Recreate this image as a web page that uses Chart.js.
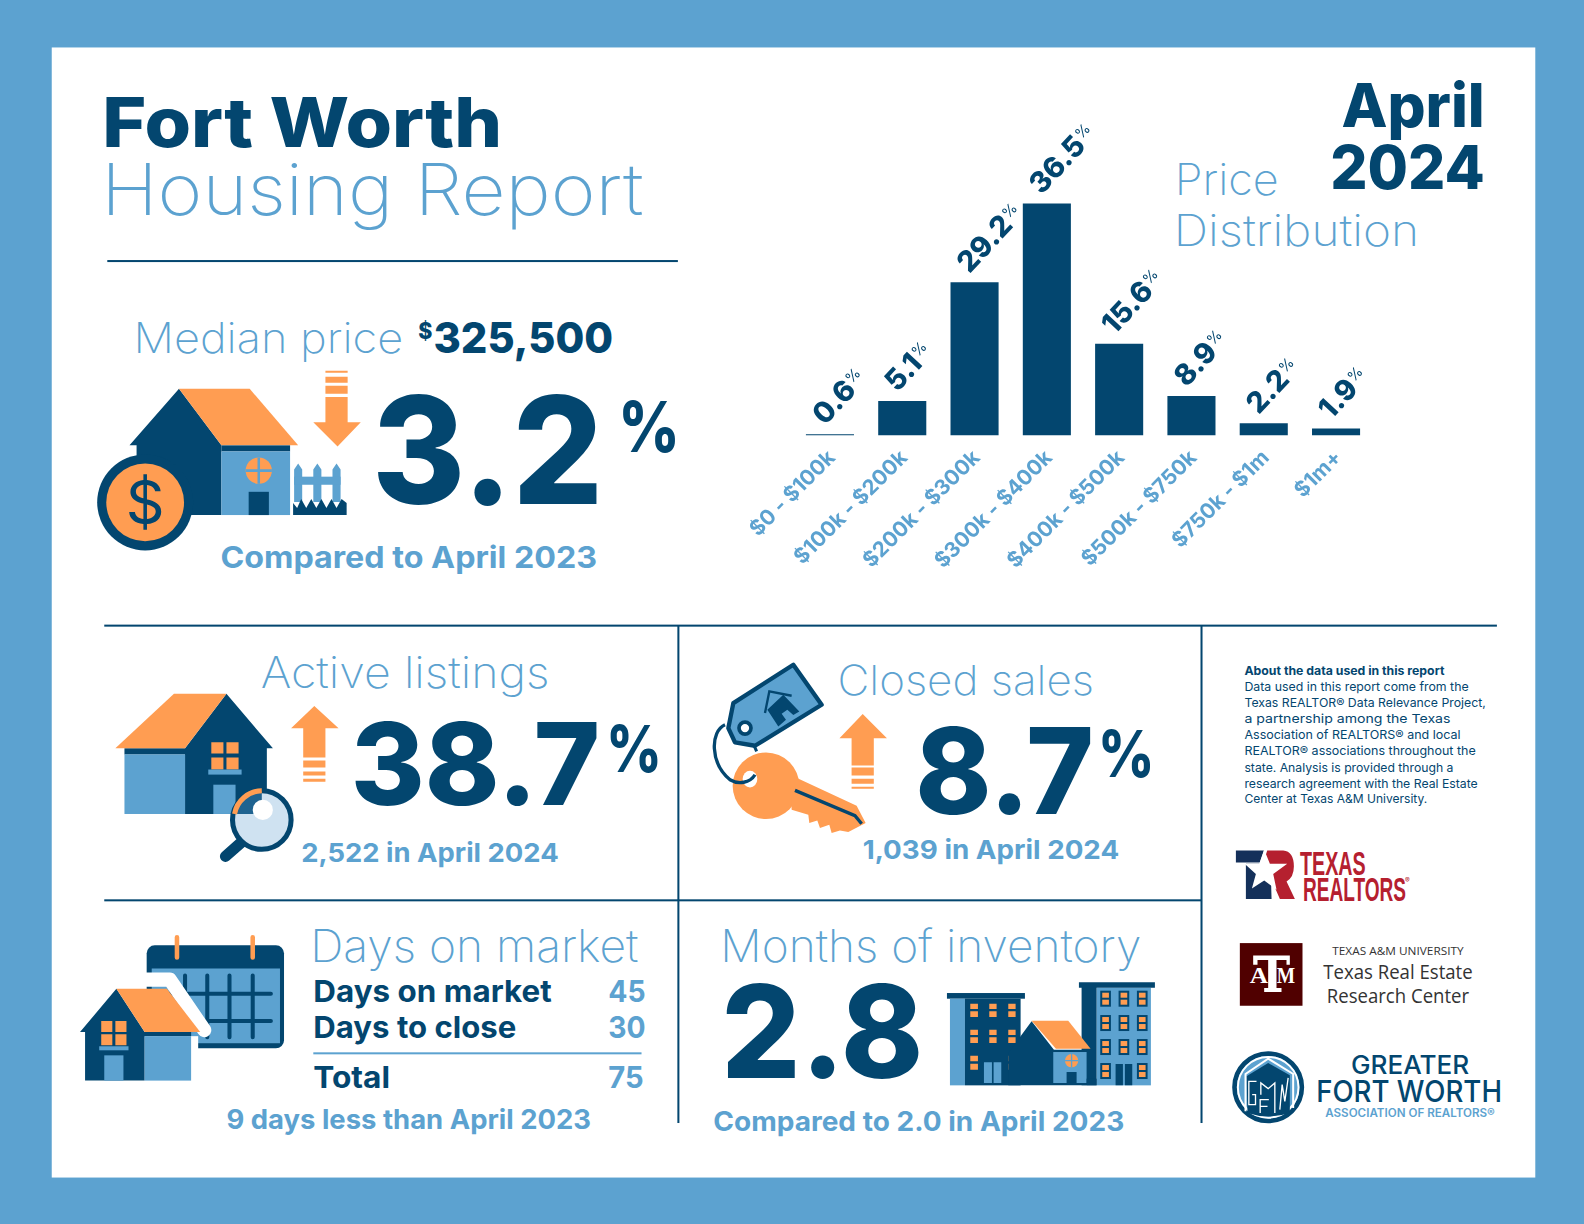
<!DOCTYPE html>
<html>
<head>
<meta charset="utf-8">
<title>Fort Worth Housing Report</title>
<script src="https://cdn.jsdelivr.net/npm/chart.js@4"></script>
<style>
  html, body { margin: 0; width: 1584px; height: 1224px; overflow: hidden; background: #5ca2d0; }
  #page { position: absolute; left: 0; top: 0; }
  #priceChart { position: absolute; left: 700px; top: 60px; }
  text { font-family: Inter, "Open Sans", sans-serif; }
  .b { font-weight: 700; fill: #03466f; }
  .x { font-weight: 800; fill: #03466f; }
  .s { font-weight: 700; fill: #5ca2d0; }
  .l { font-weight: 200; fill: #5ca2d0; }
  .a { font-weight: 400; fill: #03466f; font-size: 12px; }
  .navy { fill: #03466f; } .blue { fill: #5ca2d0; } .org { fill: #ff9d52; }
</style>
</head>
<body>
<svg id="page" width="1584" height="1224" viewBox="0 0 1568 1212" xmlns="http://www.w3.org/2000/svg">
  <rect x="51" y="47" width="1469" height="1119" fill="#fff"/>

  <!-- heading -->
  <text class="x" x="101" y="146" font-size="68" textLength="396" lengthAdjust="spacingAndGlyphs">Fort Worth</text>
  <text class="l" x="100" y="213" font-size="70" textLength="537" lengthAdjust="spacingAndGlyphs">Housing Report</text>
  <rect x="106" y="257.5" width="565" height="2" class="navy"/>
  <text class="x" x="1328" y="126" font-size="60" textLength="142" lengthAdjust="spacingAndGlyphs">April</text>
  <text class="x" x="1317" y="187" font-size="60" textLength="153" lengthAdjust="spacingAndGlyphs">2024</text>
  <text class="l" x="1163" y="193" font-size="43" textLength="103" lengthAdjust="spacingAndGlyphs">Price</text>
  <text class="l" x="1162" y="244" font-size="43" textLength="243" lengthAdjust="spacingAndGlyphs">Distribution</text>

  <!-- median price -->
  <text class="l" x="132" y="350" font-size="42" textLength="267" lengthAdjust="spacingAndGlyphs">Median price</text>
  <text class="x" x="414" y="336" font-size="22" textLength="14" lengthAdjust="spacingAndGlyphs">$</text>
  <text class="x" x="429" y="350" font-size="42" textLength="178" lengthAdjust="spacingAndGlyphs">325,500</text>
  <path class="navy" d="M177 385 L128 441 H135 V510 H219 V441Z"/>
  <path class="org" d="M177 385 H247 L295 441 H219Z"/>
  <rect class="navy" x="219" y="441" width="68" height="6"/>
  <rect class="blue" x="219" y="447" width="68" height="63"/>
  <rect class="navy" x="246" y="487" width="20" height="23"/>
  <circle class="org" cx="256" cy="466" r="13"/>
  <path d="M256 453 V479 M243 466 H269" stroke="#5ca2d0" stroke-width="2.5"/>
  <circle class="navy" cx="143.5" cy="497.5" r="47.5"/>
  <circle class="org" cx="143.5" cy="497.5" r="38.5"/>
  <text class="b" x="143.5" y="519" font-size="60" text-anchor="middle" style="font-weight:400">$</text>
  <path class="org" d="M322 367 H344 V369 H322Z M322 373 H344 V379 H322Z M322 382 H344 V390 H322Z M322 393 H344 V418 H357 L334 442 L310 418 H322Z"/>
  <path class="blue" d="M291 465 L295 459 L299 465 V497 H291Z M310 465 L314 459 L318 465 V497 H310Z M329 465 L333 459 L337 465 V497 H329Z"/>
  <rect class="blue" x="291" y="472" width="46" height="8"/>
  <path class="navy" d="M290 510 V498 L294 503 L298 494 L303 503 L308 494 L313 503 L318 494 L323 503 L328 494 L333 503 L338 494 L343 498 V510Z"/>
  <text class="x" x="368" y="499" font-size="148" textLength="229" lengthAdjust="spacingAndGlyphs">3.2</text>
  <text class="x" x="612" y="448" font-size="70" textLength="61" lengthAdjust="spacingAndGlyphs">%</text>
  <text class="s" x="218" y="562" font-size="30" textLength="373" lengthAdjust="spacingAndGlyphs">Compared to April 2023</text>

  <!-- divider rules -->
  <rect x="103" y="618.5" width="1379" height="2" class="navy"/>
  <rect x="103" y="890.5" width="1086" height="2" class="navy"/>
  <rect x="670.5" y="619" width="2" height="493" class="navy"/>
  <rect x="1188.5" y="619" width="2" height="493" class="navy"/>

  <!-- active listings -->
  <text class="l" x="258" y="681" font-size="43" textLength="286" lengthAdjust="spacingAndGlyphs">Active listings</text>
  <path class="navy" d="M224 687 L270 741 H264 V806 H183 V747 H123 V741 H183Z"/>
  <path class="org" d="M172 687 H224 L183 741 H114Z"/>
  <rect class="blue" x="123" y="747" width="60" height="59"/>
  <path class="org" d="M209 735 H221 V746 H209Z M224 735 H236 V746 H224Z M209 750 H221 V762 H209Z M224 750 H236 V762 H224Z"/>
  <rect class="blue" x="206" y="762" width="33" height="5"/>
  <rect class="blue" x="211" y="777" width="22" height="29"/>
  <path d="M240 833 L223 848" stroke="#03466f" stroke-width="11" stroke-linecap="round"/>
  <circle cx="259" cy="812" r="29" fill="#cfe2f1" stroke="#03466f" stroke-width="5"/>
  <path d="M232 806 A28 28 0 0 1 259 783 V806Z" fill="#1f6390"/>
  <path d="M232 806 A28 28 0 0 1 259 783" fill="none" stroke="#ff9d52" stroke-width="5"/>
  <circle cx="260" cy="802" r="10" fill="#fff"/>
  <path class="org" d="M311 699 L335 721 H322 V750 H300 V721 H288Z M300 753 H322 V760 H300Z M300 764 H322 V768 H300Z M300 771 H322 V774 H300Z"/>
  <text class="x" x="347" y="797" font-size="113" textLength="247" lengthAdjust="spacingAndGlyphs">38.7</text>
  <text class="x" x="600" y="764" font-size="64" textLength="55" lengthAdjust="spacingAndGlyphs">%</text>
  <text class="s" x="298" y="854" font-size="26" textLength="255" lengthAdjust="spacingAndGlyphs">2,522 in April 2024</text>

  <!-- closed sales -->
  <text class="l" x="829" y="688" font-size="41" textLength="254" lengthAdjust="spacingAndGlyphs">Closed sales</text>
  <g transform="translate(702.8 653.3) scale(.33)">
    <path d="M120 230 L140 275" stroke="#03466f" stroke-width="9"/>
    <path class="blue" stroke="#03466f" stroke-width="13" stroke-linejoin="round" d="M250 15 L335 135 L135 258 L75 248 L55 205 L70 130Z"/>
    <circle cx="105" cy="205" r="18" fill="#fff" stroke="#03466f" stroke-width="11"/>
    <path class="navy" d="M220 105 L268 155 L250 166 L232 150 L215 162 L228 180 L205 200 L182 165 L172 150Z"/>
    <path d="M165 160 L178 95 L245 108" fill="none" stroke="#03466f" stroke-width="7"/>
    <circle class="org" cx="168" cy="378" r="100"/>
    <path class="org" d="M240 345 L440 438 L467 490 L415 517 L390 512 L365 520 L358 495 L330 505 L322 482 L298 490 L295 465 L245 450Z"/>
    <path d="M255 392 L435 468 L455 492" fill="none" stroke="#03466f" stroke-width="10"/>
    <ellipse cx="120" cy="358" rx="22" ry="25" fill="#fff"/>
    <path d="M45 195 C0 215 0 310 60 360 C85 375 120 370 135 345" fill="none" stroke="#03466f" stroke-width="10"/>
  </g>
  <path class="org" d="M854 707 L878 731 H865 V758 H843 V731 H831Z M843 760 H865 V768 H843Z M843 771 H865 V776 H843Z M843 779 H865 V781 H843Z"/>
  <text class="x" x="906" y="806" font-size="118" textLength="177" lengthAdjust="spacingAndGlyphs">8.7</text>
  <text class="x" x="1087" y="769" font-size="64" textLength="56" lengthAdjust="spacingAndGlyphs">%</text>
  <text class="s" x="854" y="851" font-size="26" textLength="254" lengthAdjust="spacingAndGlyphs">1,039 in April 2024</text>

  <!-- days on market -->
  <text class="l" x="307" y="953" font-size="44" textLength="325" lengthAdjust="spacingAndGlyphs">Days on market</text>
  <rect class="navy" x="145" y="936" width="136" height="102" rx="8"/>
  <rect class="blue" x="150" y="959" width="127" height="74"/>
  <path d="M183 966 V1027 M205 966 V1027 M227 966 V1027 M250 966 V1027 M165 984 H268 M165 1011 H268" stroke="#03466f" stroke-width="4" stroke-linecap="round"/>
  <path d="M175 928 V948 M250 928 V948" stroke="#ff9d52" stroke-width="4.5" stroke-linecap="round"/>
  <path d="M118 970 H168 L202 1020" fill="none" stroke="#fff" stroke-width="14" stroke-linecap="round" stroke-linejoin="round"/>
  <rect x="143" y="1026" width="53" height="50" fill="#fff"/>
  <rect x="76" y="1020" width="80" height="54" fill="#fff"/>
  <path class="navy" d="M115 979 L79 1022 H84 V1070 H143 V1026 H189 V1022 H143Z"/>
  <path class="org" d="M115 979 H165 L198 1022 H143Z"/>
  <rect class="blue" x="143" y="1026" width="46" height="44"/>
  <path class="org" d="M100 1011 H111 V1022 H100Z M114 1011 H125 V1022 H114Z M100 1024 H111 V1035 H100Z M114 1024 H125 V1035 H114Z"/>
  <rect class="blue" x="98" y="1036" width="29" height="4"/>
  <rect class="blue" x="103" y="1045" width="19" height="25"/>
  <text class="b" x="310" y="992" font-size="30" textLength="236" lengthAdjust="spacingAndGlyphs">Days on market</text>
  <text class="s" x="602" y="992" font-size="30" textLength="37" lengthAdjust="spacingAndGlyphs">45</text>
  <text class="b" x="310" y="1028" font-size="30" textLength="201" lengthAdjust="spacingAndGlyphs">Days to close</text>
  <text class="s" x="602" y="1028" font-size="30" textLength="37" lengthAdjust="spacingAndGlyphs">30</text>
  <rect class="blue" x="310" y="1042" width="325" height="2"/>
  <text class="b" x="310" y="1077" font-size="30" textLength="76" lengthAdjust="spacingAndGlyphs">Total</text>
  <text class="s" x="602" y="1077" font-size="30" textLength="35" lengthAdjust="spacingAndGlyphs">75</text>
  <text class="s" x="224" y="1118" font-size="27" textLength="361" lengthAdjust="spacingAndGlyphs">9 days less than April 2023</text>

  <!-- months of inventory -->
  <text class="l" x="713" y="953" font-size="44" textLength="417" lengthAdjust="spacingAndGlyphs">Months of inventory</text>
  <text class="x" x="714" y="1067" font-size="128" textLength="200" lengthAdjust="spacingAndGlyphs">2.8</text>
  <text class="s" x="706" y="1120" font-size="27" textLength="407" lengthAdjust="spacingAndGlyphs">Compared to 2.0 in April 2023</text>
  <g transform="translate(692.9 900.8) scale(.33)">
    <rect class="navy" x="741" y="250" width="234" height="17"/>
    <rect class="blue" x="750" y="267" width="45" height="260"/>
    <rect class="navy" x="795" y="267" width="167" height="260"/>
    <path class="org" d="M811 282 h23 v16 h-23z M811 305 h23 v17 h-23z M868 282 h22 v16 h-22z M868 305 h22 v17 h-22z M925 282 h22 v16 h-22z M925 305 h22 v17 h-22z
      M811 360 h23 v16 h-23z M811 383 h23 v17 h-23z M868 360 h22 v16 h-22z M868 383 h22 v17 h-22z M925 360 h22 v16 h-22z M925 383 h22 v17 h-22z
      M811 438 h23 v17 h-23z M811 462 h23 v18 h-23z M925 438 h8 v17 h-8z M925 462 h8 v18 h-8z"/>
    <path class="blue" d="M852 458 h24 v62 h-24z M881 458 h23 v62 h-23z"/>
    <rect class="blue" x="1190" y="234" width="163" height="293"/>
    <path class="navy" d="M1137 218 H1365 V234 H1190 V527 H1145 V234 H1137Z"/>
    <path class="navy" d="M925 527 V430 L995 335 L1062 420 H1160 V527Z"/>
    <path class="org" d="M995 333 H1105 L1172 417 H1068Z"/>
    <rect class="blue" x="1060" y="427" width="100" height="93"/>
    <circle class="org" cx="1115" cy="453" r="20"/>
    <path d="M1115 433 V473 M1095 453 H1135" stroke="#5ca2d0" stroke-width="4"/>
    <rect class="navy" x="1100" y="487" width="30" height="33"/>
    <rect class="navy" x="1160" y="507" width="30" height="20"/>
    <g id="towerWindows"></g>
    <path class="navy" d="M1247 463 h22 v64 h-22z M1275 463 h22 v64 h-22z"/>
  </g>

  <!-- about text -->
  <text class="a" style="font-weight:700" x="1232" y="668" textLength="198" lengthAdjust="spacingAndGlyphs">About the data used in this report</text>
  <text class="a" x="1232" y="684" textLength="222" lengthAdjust="spacingAndGlyphs">Data used in this report come from the</text>
  <text class="a" x="1232" y="700" textLength="239" lengthAdjust="spacingAndGlyphs">Texas REALTOR® Data Relevance Project,</text>
  <text class="a" x="1232" y="716" textLength="204" lengthAdjust="spacingAndGlyphs">a partnership among the Texas</text>
  <text class="a" x="1232" y="732" textLength="214" lengthAdjust="spacingAndGlyphs">Association of REALTORS® and local</text>
  <text class="a" x="1232" y="748" textLength="229" lengthAdjust="spacingAndGlyphs">REALTOR® associations throughout the</text>
  <text class="a" x="1232" y="764" textLength="207" lengthAdjust="spacingAndGlyphs">state. Analysis is provided through a</text>
  <text class="a" x="1232" y="780" textLength="231" lengthAdjust="spacingAndGlyphs">research agreement with the Real Estate</text>
  <text class="a" x="1232" y="795" textLength="181" lengthAdjust="spacingAndGlyphs">Center at Texas A&amp;M University.</text>

  <!-- Texas Realtors logo -->
  <g transform="translate(1217.6 831.5) scale(.33)">
    <path fill="#14305a" d="M18 32 H102 L90 68 H18Z M48 72 H122 L125 178 H48Z"/>
    <path fill="#b5202f" d="M112 32 H160 Q192 35 192 80 Q192 112 170 125 L195 178 H150 L118 104 L150 80 L100 70Z"/>
    <path fill="#fff" d="M103 30 L120 72 H172 L130 103 L140 150 L103 122 L66 146 L78 103 L44 72 H88Z"/>
  </g>
  <text x="1287" y="866" font-size="33" fill="#b5202f" style="font-family:'Liberation Sans Narrow','Liberation Sans';font-weight:700" textLength="65" lengthAdjust="spacingAndGlyphs">TEXAS</text>
  <text x="1290" y="892" font-size="33" fill="#b5202f" style="font-family:'Liberation Sans Narrow','Liberation Sans';font-weight:700" textLength="102" lengthAdjust="spacingAndGlyphs">REALTORS</text>
  <text x="1391" y="874" font-size="7" fill="#b5202f">®</text>

  <!-- Texas A&M logo -->
  <g transform="translate(1222.5 925.6) scale(.33)">
    <rect x="15" y="25" width="188" height="188" fill="#500000"/>
    <path fill="#fff" d="M55 62 H165 V90 H155 V76 H125 V160 H140 V172 H88 V160 H100 V76 H68 V90 H55Z"/>
    <text x="45" y="145" font-size="72" fill="#fff" textLength="55" lengthAdjust="spacingAndGlyphs" style="font-family:'Liberation Serif';font-weight:700">A</text>
    <text x="126" y="145" font-size="72" fill="#fff" textLength="55" lengthAdjust="spacingAndGlyphs" style="font-family:'Liberation Serif';font-weight:700">M</text>
  </g>
  <text x="1384" y="946" font-size="11" fill="#333" text-anchor="middle" textLength="130" lengthAdjust="spacingAndGlyphs" style="font-family:'Open Sans'">TEXAS A&amp;M UNIVERSITY</text>
  <text x="1384" y="969" font-size="20" fill="#333" text-anchor="middle" textLength="148" lengthAdjust="spacingAndGlyphs" style="font-family:'Open Sans'">Texas Real Estate</text>
  <text x="1384" y="993" font-size="20" fill="#333" text-anchor="middle" textLength="141" lengthAdjust="spacingAndGlyphs" style="font-family:'Open Sans'">Research Center</text>

  <!-- Greater Fort Worth logo -->
  <g transform="translate(1212.6 1034.4) scale(.33)">
    <circle cx="130" cy="128" r="101" fill="#5ca2d0" stroke="#03466f" stroke-width="14"/>
    <circle cx="130" cy="128" r="91" fill="none" stroke="#fff" stroke-width="6"/>
    <path class="navy" d="M65 95 L130 55 L195 92 V205 Q130 226 68 205Z"/>
    <path d="M62 200 V88 L130 42 L205 88 V190" fill="none" stroke="#fff" stroke-width="6"/>
    <path d="M95 110 H72 V180 H92 V150 H82 M106 205 V165 H132 M106 185 H128 M108 150 V115 L130 132 L150 115 V205 M165 195 L172 120 L180 170 L190 100" fill="none" stroke="#fff" stroke-width="4"/>
  </g>
  <text class="b" x="1396" y="1063" font-size="25" text-anchor="middle" style="font-weight:500" textLength="117" lengthAdjust="spacingAndGlyphs">GREATER</text>
  <text class="b" x="1303" y="1091" font-size="30" style="font-weight:500" textLength="184" lengthAdjust="spacingAndGlyphs">FORT WORTH</text>
  <text class="s" x="1312" y="1106" font-size="11" style="font-weight:600" textLength="168" lengthAdjust="spacingAndGlyphs">ASSOCIATION OF REALTORS®</text>
</svg>
<canvas id="priceChart" width="700" height="560"></canvas>

<script>
const priceBands = ["$0 - $100k", "$100k - $200k", "$200k - $300k", "$300k - $400k", "$400k - $500k", "$500k - $750k", "$750k - $1m", "$1m+"];
const printedShares = ["0.6", "5.1", "29.2", "36.5", "15.6", "8.9", "2.2", "1.9"];
// the printed bars are not to scale with their labels, so lengths are read off the bars themselves
const barLengths = [0.2, 5.4, 24.1, 36.5, 14.4, 6.2, 1.9, 1.1];

const NAVY = "#03466f";
const SKY = "#5ca2d0";

// tower window grid for the building icon
const towerColumns = [1201, 1256, 1311];
const towerRows = [243, 316, 388, 460];
const towerGroup = document.getElementById("towerWindows");
towerRows.forEach((y, r) => towerColumns.forEach((x, c) => {
  if (r === 3 && c === 1) return; // door goes here
  towerGroup.innerHTML += `<rect class="navy" x="${x}" y="${y}" width="32" height="48"/>` +
    `<rect class="org" x="${x + 6}" y="${y + 6}" width="20" height="15"/>` +
    `<rect class="org" x="${x + 6}" y="${y + 27}" width="20" height="15"/>`;
}));

const shareLabels = {
  id: "shareLabels",
  afterDatasetsDraw(chart) {
    const { ctx } = chart;
    chart.getDatasetMeta(0).data.forEach((bar, i) => {
      ctx.save();
      ctx.translate(bar.x - 5, bar.y - 8);
      ctx.rotate(-47 * Math.PI / 180);
      ctx.fillStyle = NAVY;
      ctx.font = "800 29px Inter";
      ctx.textBaseline = "alphabetic";
      ctx.fillText(printedShares[i], 0, 0);
      const w = ctx.measureText(printedShares[i]).width;
      ctx.font = "400 15px Inter";
      ctx.fillText("%", w + 1, -9);
      ctx.restore();
    });
  },
};

new Chart(document.getElementById("priceChart"), {
  type: "bar",
  data: {
    labels: priceBands,
    datasets: [{
      data: barLengths,
      backgroundColor: NAVY,
      barPercentage: 0.665,
      categoryPercentage: 1,
    }],
  },
  options: {
    responsive: false,
    animation: false,
    layout: { autoPadding: false, padding: { left: 93.8, right: 27.8, top: 57.6, bottom: 0 } },
    plugins: { legend: { display: false }, tooltip: { enabled: false } },
    scales: {
      y: { display: false, min: 0, max: 50 },
      x: {
        afterFit(scale) { scale.height = 184.6; },
        grid: { display: false },
        border: { display: false },
        ticks: {
          autoSkip: false,
          minRotation: 45,
          maxRotation: 45,
          padding: 2,
          labelOffset: 2,
          color: SKY,
          font: { family: "Inter", size: 21, weight: "700" },
        },
      },
    },
  },
  plugins: [shareLabels],
});
</script>
</body>
</html>
